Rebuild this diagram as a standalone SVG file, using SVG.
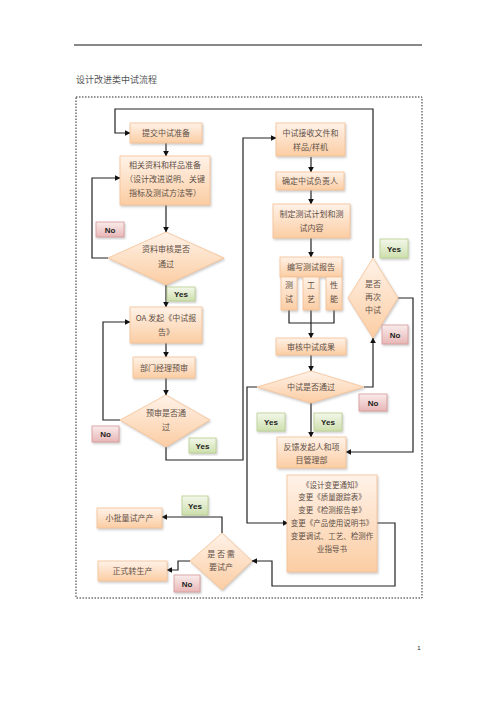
<svg xmlns="http://www.w3.org/2000/svg" width="496" height="702" viewBox="0 0 496 702">
<defs>
<linearGradient id="gBox" x1="0" y1="0" x2="0" y2="1"><stop offset="0" stop-color="#fff2e8"/><stop offset="1" stop-color="#fbcda3"/></linearGradient>
<linearGradient id="gNo" x1="0" y1="0" x2="0" y2="1"><stop offset="0" stop-color="#f9eceb"/><stop offset="1" stop-color="#e8b6b6"/></linearGradient>
<linearGradient id="gYes" x1="0" y1="0" x2="0" y2="1"><stop offset="0" stop-color="#f3f7ea"/><stop offset="1" stop-color="#cddfac"/></linearGradient>
<filter id="sh" x="-10%" y="-10%" width="130%" height="130%"><feDropShadow dx="1" dy="1.5" stdDeviation="0.8" flood-color="#888" flood-opacity="0.45"/></filter>
<marker id="ar" viewBox="0 0 10 10" refX="9" refY="5" markerWidth="5" markerHeight="5" orient="auto"><path d="M0,0 L10,5 L0,10 z" fill="#111"/></marker>
</defs>
<style>
.box{fill:url(#gBox);stroke:#f6c194;stroke-width:0.8;filter:url(#sh)}
.no{fill:url(#gNo);stroke:#d79a9a;stroke-width:0.8;filter:url(#sh)}
.yes{fill:url(#gYes);stroke:#b9cf90;stroke-width:0.8;filter:url(#sh)}
.t{font-family:"Noto Sans CJK SC","Liberation Serif",serif;font-size:8px;fill:#5e5048;text-anchor:middle}
.s{font-size:7.5px}
.lb{font-family:"Liberation Sans",Arial,sans-serif;font-size:8px;font-weight:bold;fill:#222;text-anchor:middle}
.c{fill:none;stroke:#222;stroke-width:1.2}
.ca{fill:none;stroke:#222;stroke-width:1.2;marker-end:url(#ar)}
</style>
<rect width="496" height="702" fill="#fff"/>
<line x1="74" y1="45" x2="422" y2="45" stroke="#111" stroke-width="1"/>
<text x="76" y="83" style="font-family:'Noto Sans CJK SC',serif;font-size:9px;fill:#555">设计改进类中试流程</text>
<rect x="76" y="97" width="346" height="501" fill="none" stroke="#111" stroke-width="0.9" stroke-dasharray="1.5,1.5"/>
<text x="419" y="650" style="font-family:'Liberation Sans',sans-serif;font-size:6px;fill:#222" text-anchor="middle">1</text>

<g id="connectors">
<path class="ca" d="M373,258 V109 H115 V133 H130"/>
<path class="ca" d="M166,143 V156"/>
<path class="ca" d="M166,205 V232"/>
<path class="ca" d="M108,258 H92 V178 H120"/>
<path class="ca" d="M166,285 V307"/>
<path class="ca" d="M166,343 V357"/>
<path class="ca" d="M166,378 V395"/>
<path class="ca" d="M120,420 H103 V322 H130"/>
<path class="ca" d="M166,447 V460 H243 V138 H276"/>
<path class="ca" d="M311,157 V172"/>
<path class="ca" d="M311,190 V204"/>
<path class="ca" d="M311,238 V257"/>
<path class="c" d="M289,310 V323 H334 V310"/>
<path class="ca" d="M311,310 V338"/>
<path class="ca" d="M311,355 V371"/>
<path class="ca" d="M364,387 H373 V338"/>
<path class="ca" d="M398,298 H413 V452 H346"/>
<path class="ca" d="M311,403 V437"/>
<path class="ca" d="M257,387 H247 V523 H288"/>
<path class="ca" d="M377,523 H395 V586 H272 V561 H252"/>
<path class="ca" d="M222,533 V517 H162"/>
<path class="ca" d="M190,561 H178 V570 H167"/>
</g>

<g id="n1"><rect class="box" x="130" y="123" width="72" height="20"/><text class="t" x="166" y="136">提交中试准备</text></g>
<g id="n2"><rect class="box" x="120" y="156" width="90" height="49"/><text class="t" x="165" y="168">相关资料和样品准备</text><text class="t" x="165" y="182">（设计改进说明、关键</text><text class="t" x="165" y="196">指标及测试方法等）</text></g>
<g id="d1"><polygon class="box" points="166,232 224,258 166,285 108,258"/><text class="t" x="166" y="252">资料审核是否</text><text class="t" x="166" y="267">通过</text></g>
<g id="l1"><rect class="no" x="96" y="222" width="28" height="15"/><text class="lb" x="110" y="232.5">No</text></g>
<g id="l2"><rect class="yes" x="167" y="287" width="28" height="14"/><text class="lb" x="181" y="297">Yes</text></g>
<g id="n3"><rect class="box" x="130" y="307" width="72" height="36"/><text class="t" x="166" y="321">OA 发起《中试报</text><text class="t" x="166" y="335">告》</text></g>
<g id="n4"><rect class="box" x="133" y="357" width="62" height="21"/><text class="t" x="164" y="370.5">部门经理预审</text></g>
<g id="d2"><polygon class="box" points="166,395 210,420 166,447 120,420"/><text class="t" x="166" y="416">预审是否通</text><text class="t" x="166" y="430">过</text></g>
<g id="l3"><rect class="no" x="92" y="426" width="27" height="16"/><text class="lb" x="105.5" y="437">No</text></g>
<g id="l4"><rect class="yes" x="189" y="438" width="27" height="15"/><text class="lb" x="202.5" y="448.5">Yes</text></g>

<g id="n5"><rect class="box" x="276" y="123" width="69" height="33"/><text class="t" x="310.5" y="136">中试接收文件和</text><text class="t" x="310.5" y="150">样品/样机</text></g>
<g id="n6"><rect class="box" x="276" y="172" width="68" height="18"/><text class="t" x="310" y="184">确定中试负责人</text></g>
<g id="n7"><rect class="box" x="273" y="204" width="77" height="34"/><text class="t" x="311.5" y="217">制定测试计划和测</text><text class="t" x="311.5" y="231">试内容</text></g>
<g id="n8"><rect class="box" x="280" y="257" width="62" height="20"/><text class="t" x="311" y="270">编写测试报告</text></g>
<g id="n8a"><rect class="box" x="281" y="277" width="16" height="33"/><text class="t" x="289" y="288">测</text><text class="t" x="289" y="302">试</text></g>
<g id="n8b"><rect class="box" x="303" y="277" width="16" height="33"/><text class="t" x="311" y="288">工</text><text class="t" x="311" y="302">艺</text></g>
<g id="n8c"><rect class="box" x="326" y="277" width="16" height="33"/><text class="t" x="334" y="288">性</text><text class="t" x="334" y="302">能</text></g>
<g id="n9"><rect class="box" x="276" y="338" width="70" height="17"/><text class="t" x="311" y="349.5">审核中试成果</text></g>
<g id="d3"><polygon class="box" points="311,371 364,387 311,403 257,387"/><text class="t" x="311" y="390">中试是否通过</text></g>
<g id="l5"><rect class="no" x="359" y="394" width="28" height="17"/><text class="lb" x="373" y="405.5">No</text></g>
<g id="l6"><rect class="yes" x="257" y="413" width="28" height="18"/><text class="lb" x="271" y="425">Yes</text></g>
<g id="l7"><rect class="yes" x="314" y="413" width="28" height="18"/><text class="lb" x="328" y="425">Yes</text></g>
<g id="n10"><rect class="box" x="277" y="437" width="69" height="31"/><text class="t" x="311.5" y="450">反馈发起人和项</text><text class="t" x="311.5" y="463">目管理部</text></g>
<g id="d4"><polygon class="box" points="373,258 398,298 373,338 348,298"/><text class="t" x="373" y="287">是否</text><text class="t" x="373" y="300">再次</text><text class="t" x="373" y="313">中试</text></g>
<g id="l8"><rect class="yes" x="380" y="239" width="28" height="19"/><text class="lb" x="394" y="251.5">Yes</text></g>
<g id="l9"><rect class="no" x="382" y="325" width="26" height="19"/><text class="lb" x="395" y="337.5">No</text></g>

<g id="n11"><rect class="box" x="287" y="475" width="90" height="97"/>
<text class="t s" x="332" y="488">《设计变更通知》</text>
<text class="t s" x="332" y="500">变更《质量跟踪表》</text>
<text class="t s" x="332" y="513">变更《检测报告单》</text>
<text class="t s" x="332" y="526">变更《产品使用说明书》</text>
<text class="t s" x="332" y="539">变更调试、工艺、检测作</text>
<text class="t s" x="332" y="552">业指导书</text></g>
<g id="d5"><polygon class="box" points="222,533 252,561 222,590 190,561"/><text class="t" x="221" y="557">是 否 需</text><text class="t" x="221" y="570">要试产</text></g>
<g id="n12"><rect class="box" x="97" y="508" width="65" height="20"/><text class="t" x="129.5" y="521">小批量试产产</text></g>
<g id="n13"><rect class="box" x="98" y="561" width="69" height="20"/><text class="t" x="132.5" y="574">正式转生产</text></g>
<g id="l10"><rect class="yes" x="182" y="496" width="26" height="19"/><text class="lb" x="195" y="508.5">Yes</text></g>
<g id="l11"><rect class="no" x="174" y="575" width="26" height="17"/><text class="lb" x="187" y="586.5">No</text></g>
</svg>
